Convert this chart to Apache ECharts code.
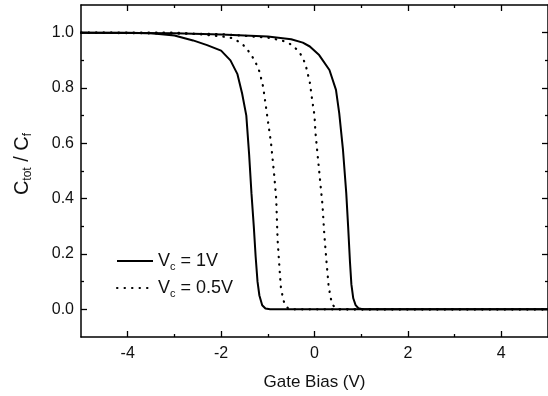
<!DOCTYPE html>
<html>
<head>
<meta charset="utf-8">
<script src="https://cdn.jsdelivr.net/npm/echarts@6/dist/echarts.min.js"></script>
<style>
  html, body { margin: 0; padding: 0; background: #fff; }
  #chart { width: 548px; height: 396px; }
</style>
</head>
<body>
<div id="chart"></div>
<script>
// solid curves (Vc = 1V)
var solidLeftX = [-5, -4, -3.5, -3, -2.6, -2.3, -2.0, -1.8, -1.65, -1.55, -1.46, -1.40, -1.35, -1.30, -1.26, -1.22, -1.18, -1.12, -1.05, -0.95, 5];
var solidLeftY = [1.0, 1.0, 0.998, 0.99, 0.972, 0.955, 0.935, 0.9, 0.85, 0.78, 0.70, 0.56, 0.42, 0.30, 0.19, 0.10, 0.05, 0.015, 0.003, 0, 0];
var solidRightX = [-5, -3, -2, -1, -0.5, -0.25, -0.1, 0.1, 0.32, 0.46, 0.53, 0.61, 0.68, 0.72, 0.76, 0.79, 0.83, 0.88, 0.94, 1.03, 5];
var solidRightY = [1.0, 0.998, 0.993, 0.986, 0.976, 0.964, 0.95, 0.919, 0.865, 0.793, 0.708, 0.576, 0.42, 0.30, 0.17, 0.09, 0.04, 0.015, 0.004, 0, 0];
// dotted curves (Vc = 0.5V)
var dotLeftX = [-5, -3, -2.46, -2.0, -1.75, -1.55, -1.43, -1.28, -1.18, -1.10, -1.03, -0.93, -0.86, -0.82, -0.79, -0.75, -0.72, -0.67, -0.62, -0.55, -0.45, 5];
var dotLeftY = [1.0, 1.0, 0.994, 0.987, 0.98, 0.96, 0.937, 0.90, 0.86, 0.805, 0.72, 0.60, 0.48, 0.40, 0.25, 0.15, 0.08, 0.035, 0.012, 0.002, 0, 0];
var dotRightX = [-5, -2, -1.0, -0.7, -0.53, -0.36, -0.25, -0.18, -0.10, -0.05, 0, 0.02, 0.06, 0.10, 0.14, 0.17, 0.21, 0.26, 0.30, 0.34, 0.39, 0.5, 5];
var dotRightY = [1.0, 0.995, 0.982, 0.972, 0.96, 0.937, 0.91, 0.877, 0.82, 0.757, 0.70, 0.64, 0.57, 0.50, 0.43, 0.38, 0.27, 0.166, 0.09, 0.045, 0.015, 0, 0];

var xMajor = [-4, -2, 0, 2, 4];
var xMinor = [-3, -1, 1, 3];
var yMajor = [0, 0.2, 0.4, 0.6, 0.8, 1.0];
var yMinor = [0.1, 0.3, 0.5, 0.7, 0.9];

var seriesNames = ['vc1', 'vc05'];
var legendText = { vc1: '{v|V}{s|c}{v| = 1V}', vc05: '{v|V}{s|c}{v| = 0.5V}' };

function zip(xs, ys) {
  return xs.map(function(x, i) { return [x, ys[i]]; });
}

var FONT = 'Liberation Sans';
var lineCol = '#000';

function axis(dim, pos, ticks, len, labels, extra) {
  var a = {
    type: 'value',
    position: pos,
    min: dim === 'x' ? -5 : -0.1,
    max: dim === 'x' ? 5 : 1.1,
    axisLine: { show: true, onZero: false, lineStyle: { color: lineCol, width: 1.5 } },
    axisTick: { show: true, inside: true, length: len, customValues: ticks, lineStyle: { color: lineCol, width: 1.3 } },
    axisLabel: { show: false },
    splitLine: { show: false }
  };
  if (labels) {
    a.axisLabel = {
      show: true,
      customValues: ticks,
      color: '#111',
      fontFamily: FONT,
      fontSize: 16,
      margin: dim === 'x' ? 9 : 7,
      formatter: function(v) { return dim === 'x' ? String(v) : v.toFixed(1); }
    };
  }
  // minor tick axes: only ticks, no line
  if (len < 5) {
    a.axisLine = { show: false, onZero: false };
  }
  return Object.assign(a, extra || {});
}

var chart = echarts.init(document.getElementById('chart'), null, { renderer: 'canvas' });

var solidStyle = { color: lineCol, width: 2 };
var dotStyle = { color: lineCol, width: 2.2, type: [0.5, 7], cap: 'round' };

chart.setOption({
  animation: false,
  backgroundColor: '#fff',
  grid: { left: 81, right: 0, top: 5, bottom: 59 },
  legend: {
    data: seriesNames,
    orient: 'vertical',
    left: 111,
    top: 247,
    itemWidth: 36,
    itemHeight: 14,
    itemGap: 7,
    itemStyle: { opacity: 0 },
    formatter: function(name) { return legendText[name]; },
    textStyle: {
      color: '#111',
      rich: {
        v: { fontFamily: FONT, fontSize: 18, lineHeight: 22, color: '#111' },
        s: { fontFamily: FONT, fontSize: 11, lineHeight: 11, verticalAlign: 'bottom', color: '#111' }
      }
    }
  },
  xAxis: [
    axis('x', 'bottom', xMajor, 6, true, {
      name: 'Gate Bias (V)',
      nameLocation: 'middle',
      nameGap: 37,
      nameTextStyle: { fontFamily: FONT, fontSize: 17, color: '#111' }
    }),
    axis('x', 'bottom', xMinor, 3, false),
    axis('x', 'top', xMajor, 6, false),
    axis('x', 'top', xMinor, 3, false)
  ],
  yAxis: [
    axis('y', 'left', yMajor, 6, true, {
      name: '{m|C}{s|tot}{m| / C}{s|f}',
      nameLocation: 'middle',
      nameGap: 47,
      nameTextStyle: {
        color: '#111',
        padding: [0, 0, 0, 14],
        rich: {
          m: { fontFamily: FONT, fontSize: 20, lineHeight: 24, color: '#111' },
          s: { fontFamily: FONT, fontSize: 12, lineHeight: 12, verticalAlign: 'bottom', color: '#111' }
        }
      }
    }),
    axis('y', 'left', yMinor, 3, false),
    axis('y', 'right', yMajor, 6, false),
    axis('y', 'right', yMinor, 3, false)
  ],
  series: [
    { name: 'vc1', type: 'line', symbol: 'none', lineStyle: solidStyle, itemStyle: { color: lineCol }, data: zip(solidLeftX, solidLeftY) },
    { name: 'vc1', type: 'line', symbol: 'none', lineStyle: solidStyle, itemStyle: { color: lineCol }, data: zip(solidRightX, solidRightY) },
    { name: 'vc05', type: 'line', symbol: 'none', lineStyle: dotStyle, itemStyle: { color: lineCol }, data: zip(dotLeftX, dotLeftY) },
    { name: 'vc05', type: 'line', symbol: 'none', lineStyle: dotStyle, itemStyle: { color: lineCol }, data: zip(dotRightX, dotRightY) }
  ]
});
</script>
</body>
</html>
